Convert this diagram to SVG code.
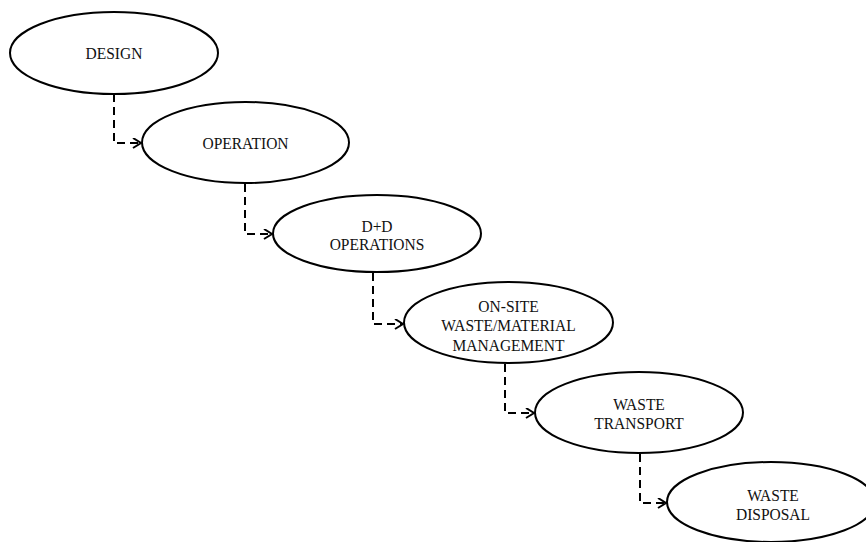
<svg xmlns="http://www.w3.org/2000/svg" width="866" height="542" viewBox="0 0 866 542">
<defs>
<style>
.node ellipse{fill:#fff;stroke:#000;stroke-width:2}
.node text{font-family:"Liberation Serif","Times New Roman",serif;font-size:16.5px;fill:#111;text-anchor:middle}
.conn path{fill:none;stroke:#000;stroke-width:2;stroke-dasharray:8,5}
</style>
<marker id="arr" markerUnits="userSpaceOnUse" markerWidth="12" markerHeight="12" refX="9" refY="5.5" orient="auto" viewBox="0 0 12 12">
<path d="M1,0.5 L9,5.5 L1,10.5" fill="none" stroke="#000" stroke-width="2" stroke-dasharray="none"/>
</marker>
</defs>
<rect width="866" height="542" fill="#fff"/>
<g id="connectors" class="conn">
<path d="M114,94 V143 H141" marker-end="url(#arr)"/>
<path d="M245,184 V234 H272" marker-end="url(#arr)"/>
<path d="M373,273 V324 H403" marker-end="url(#arr)"/>
<path d="M505,364 V413 H534" marker-end="url(#arr)"/>
<path d="M640,454 V503 H666" marker-end="url(#arr)"/>
</g>
<g id="design" class="node">
<ellipse cx="114" cy="53" rx="104" ry="41"/>
<text transform="translate(114,59) scale(0.94,1)">DESIGN</text>
</g>
<g id="operation" class="node">
<ellipse cx="245.5" cy="142.5" rx="103.5" ry="40.5"/>
<text transform="translate(245.5,149) scale(0.94,1)">OPERATION</text>
</g>
<g id="dd-operations" class="node">
<ellipse cx="377" cy="233.5" rx="104" ry="38.5"/>
<text transform="translate(377,231.5) scale(0.94,1)">D+D</text>
<text transform="translate(377,250) scale(0.94,1)">OPERATIONS</text>
</g>
<g id="onsite" class="node">
<ellipse cx="508.5" cy="322.5" rx="104.5" ry="40.5"/>
<text transform="translate(508.5,311.5) scale(0.94,1)">ON-SITE</text>
<text transform="translate(508.5,331) scale(0.94,1)">WASTE/MATERIAL</text>
<text transform="translate(508.5,351) scale(0.94,1)">MANAGEMENT</text>
</g>
<g id="transport" class="node">
<ellipse cx="639" cy="412.5" rx="104" ry="40.5"/>
<text transform="translate(639,410) scale(0.94,1)">WASTE</text>
<text transform="translate(639,429) scale(0.94,1)">TRANSPORT</text>
</g>
<g id="disposal" class="node">
<ellipse cx="771" cy="502" rx="104" ry="40"/>
<text transform="translate(773,500.5) scale(0.94,1)">WASTE</text>
<text transform="translate(773,519.5) scale(0.94,1)">DISPOSAL</text>
</g>
</svg>
